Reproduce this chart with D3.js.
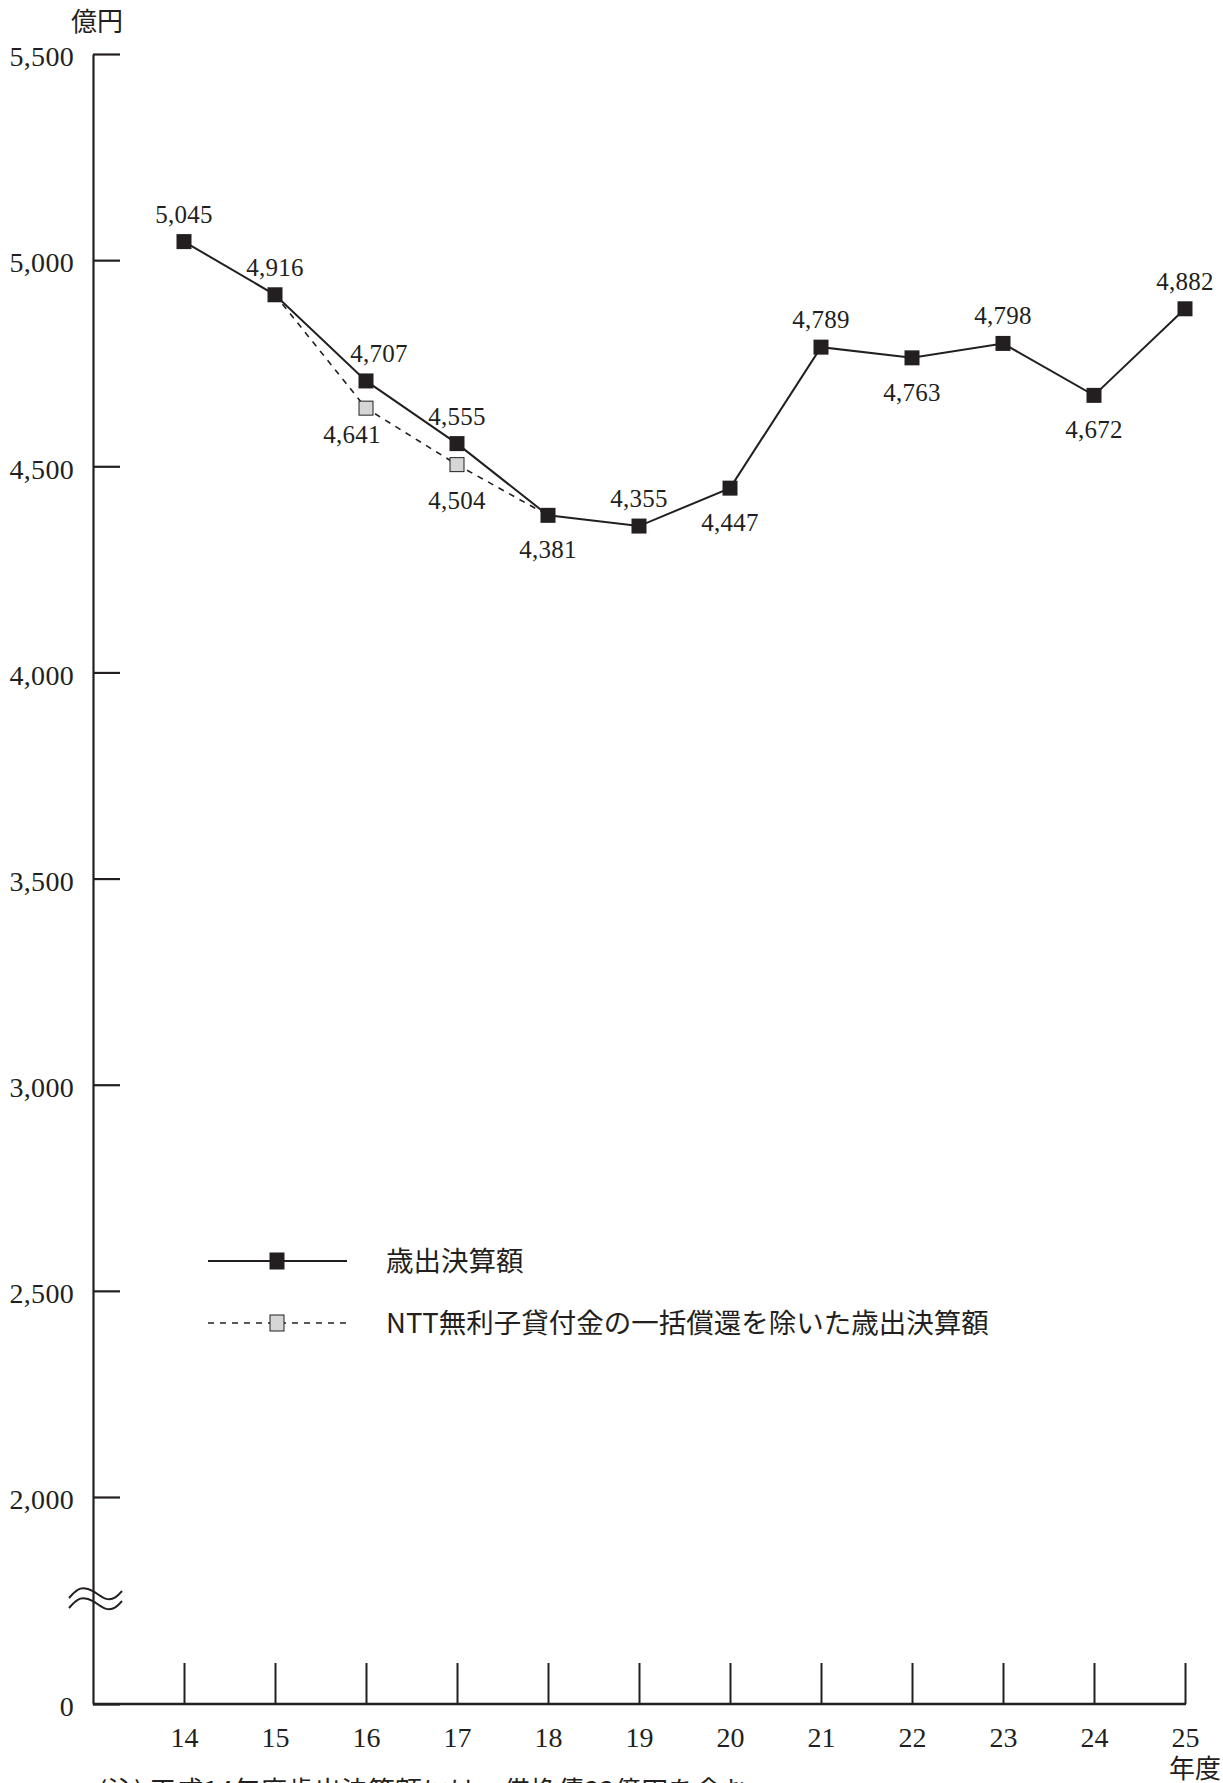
<!DOCTYPE html>
<html>
<head>
<meta charset="utf-8">
<script src="https://cdn.jsdelivr.net/npm/d3@7/dist/d3.min.js"></script>
<style>
  body { margin: 0; background: #fff; }
  svg { display: block; }
  .num { font-family: "Liberation Serif", "DejaVu Serif", serif; fill: #231f20; }
  .jp { font-family: "Noto Sans CJK JP", sans-serif; fill: #231f20; }
</style>
</head>
<body>
<svg id="chart" width="1223" height="1783"></svg>
<script>
// 年度 (平成)
const years = ["14", "15", "16", "17", "18", "19", "20", "21", "22", "23", "24", "25"];
// 歳出決算額 (億円)
const spending = [5045, 4916, 4707, 4555, 4381, 4355, 4447, 4789, 4763, 4798, 4672, 4882];
// NTT無利子貸付金の一括償還を除いた歳出決算額 (15-18年度)
const exYears = ["15", "16", "17", "18"];
const exSpending = [4916, 4641, 4504, 4381];
const yTicks = [0, 2000, 2500, 3000, 3500, 4000, 4500, 5000, 5500];
// label side for each point of the main series
const labelSide = ["up", "up", "up", "up", "down", "up", "down", "up", "down", "up", "down", "up"];

const svg = d3.select("#chart");
const ink = "#231f20";

const axisX = 93;
const x = d3.scalePoint().domain(years).range([184, 1185]);
// broken axis: 0 .. 2000 compressed, 2000 .. 5500 linear
const y = d3.scaleLinear().domain([0, 2000, 5500]).range([1704, 1497, 54]);
const fmt = d3.format(",");

// y axis
const gy = svg.append("g")
    .attr("transform", "translate(" + axisX + ",0)")
    .call(d3.axisLeft(y).tickValues(yTicks).tickFormat(fmt).tickSizeInner(-27).tickSizeOuter(0).tickPadding(19));
gy.select(".domain").attr("stroke", ink).attr("stroke-width", 2.2);
gy.selectAll(".tick line").attr("stroke", ink).attr("stroke-width", 2.2);
gy.selectAll(".tick text")
    .attr("class", "num")
    .attr("font-size", 28)
    .attr("letter-spacing", 0.3)
    .attr("dy", "0.42em")
    .style("fill", ink);

// break mark on y axis
const wave = d3.line().curve(d3.curveBasis);
[0, 10].forEach(function (off) {
    svg.append("path")
        .attr("d", wave([[69, 1598 + off], [80, 1586 + off], [93, 1590 + off], [106, 1601 + off], [116, 1598 + off], [122, 1591 + off]]))
        .attr("fill", "none")
        .attr("stroke", ink)
        .attr("stroke-width", 2);
});

// x axis
const gx = svg.append("g")
    .attr("transform", "translate(0," + y(0) + ")")
    .call(d3.axisBottom(x).tickSizeInner(-41).tickSizeOuter(0).tickPadding(23));
gx.select(".domain").remove();
gx.selectAll(".tick line").attr("stroke", ink).attr("stroke-width", 2);
gx.selectAll(".tick text")
    .attr("class", "num")
    .attr("font-size", 28)
    .style("fill", ink);
svg.append("line")
    .attr("x1", axisX).attr("x2", x(years[years.length - 1]) + 1)
    .attr("y1", y(0)).attr("y2", y(0))
    .attr("stroke", ink).attr("stroke-width", 2.6);

// unit labels
svg.append("text").attr("class", "jp")
    .attr("x", 123).attr("y", 31)
    .attr("text-anchor", "end")
    .attr("font-size", 26)
    .text("億円");
svg.append("text").attr("class", "jp")
    .attr("x", 1221).attr("y", 1778)
    .attr("text-anchor", "end")
    .attr("font-size", 26)
    .text("年度");

// dashed series
const line = d3.line().x(function (d) { return x(d[0]); }).y(function (d) { return y(d[1]); });
const exData = exYears.map(function (d, i) { return [d, exSpending[i]]; });
svg.append("path")
    .attr("d", line(exData))
    .attr("fill", "none")
    .attr("stroke", ink)
    .attr("stroke-width", 1.6)
    .attr("stroke-dasharray", "6,6");

// main series
const data = years.map(function (d, i) { return [d, spending[i]]; });
svg.append("path")
    .attr("d", line(data))
    .attr("fill", "none")
    .attr("stroke", ink)
    .attr("stroke-width", 2);

const sq = 15;
svg.selectAll(".gsq")
    .data(exData.slice(1, 3))
    .enter().append("rect")
    .attr("x", function (d) { return x(d[0]) - sq / 2 + 0.5; })
    .attr("y", function (d) { return y(d[1]) - sq / 2 + 0.5; })
    .attr("width", sq - 1).attr("height", sq - 1)
    .attr("fill", "#d6d6d6")
    .attr("stroke", ink)
    .attr("stroke-width", 1);

svg.selectAll(".bsq")
    .data(data)
    .enter().append("rect")
    .attr("x", function (d) { return x(d[0]) - sq / 2; })
    .attr("y", function (d) { return y(d[1]) - sq / 2; })
    .attr("width", sq).attr("height", sq)
    .attr("fill", ink);

// value labels
svg.selectAll(".lbl")
    .data(data)
    .enter().append("text")
    .attr("class", "num")
    .attr("font-size", 25)
    .attr("letter-spacing", 0.3)
    .attr("text-anchor", "middle")
    .attr("x", function (d, i) { return x(d[0]) + (d[0] === "16" ? 13 : 0); })
    .attr("y", function (d, i) { return y(d[1]) + (labelSide[i] === "up" ? -19 : 43); })
    .text(function (d) { return fmt(d[1]); });

svg.selectAll(".exlbl")
    .data(exData.slice(1, 3))
    .enter().append("text")
    .attr("class", "num")
    .attr("font-size", 25)
    .attr("letter-spacing", 0.3)
    .attr("text-anchor", "middle")
    .attr("x", function (d) { return x(d[0]) + (d[0] === "16" ? -14 : 0); })
    .attr("y", function (d) { return y(d[1]) + (d[0] === "16" ? 35 : 44); })
    .text(function (d) { return fmt(d[1]); });

// legend
const legend = svg.append("g");
const legendItems = [
    { label: "歳出決算額", dash: null, fill: ink, y: 1261 },
    { label: "NTT無利子貸付金の一括償還を除いた歳出決算額", dash: "6,6", fill: "#d6d6d6", y: 1323 }
];
legendItems.forEach(function (it) {
    legend.append("line")
        .attr("x1", 208).attr("x2", 347)
        .attr("y1", it.y).attr("y2", it.y)
        .attr("stroke", ink)
        .attr("stroke-width", it.dash ? 1.6 : 2)
        .attr("stroke-dasharray", it.dash);
    legend.append("rect")
        .attr("x", 277 - 7).attr("y", it.y - 8)
        .attr("width", 14).attr("height", 16)
        .attr("fill", it.fill)
        .attr("stroke", ink).attr("stroke-width", 1);
    legend.append("text")
        .attr("class", "jp")
        .attr("x", 386).attr("y", it.y)
        .attr("dy", "0.36em")
        .attr("font-size", 27.5)
        .text(it.label);
});

// footnote (cut off at the page edge)
svg.append("text")
    .attr("class", "jp")
    .attr("x", 98).attr("y", 1801)
    .attr("font-size", 27)
    .text("(注)  平成14年度歳出決算額には、借換債33億円を含む。");
</script>
</body>
</html>
